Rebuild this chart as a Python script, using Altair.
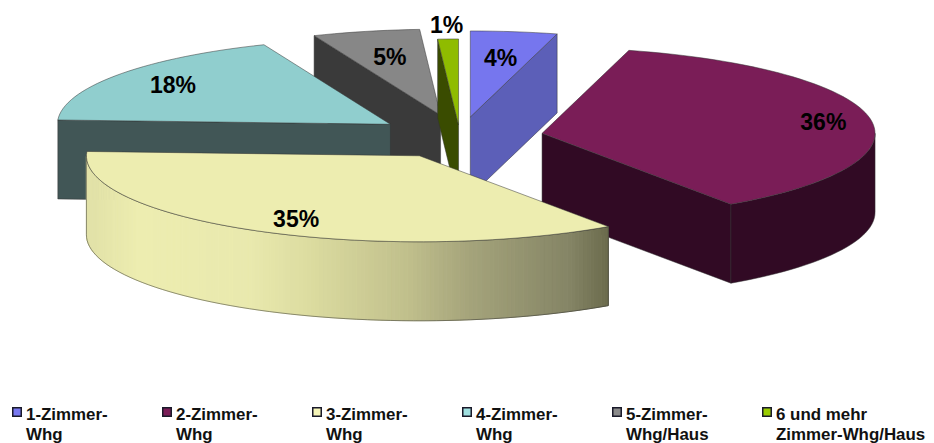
import math
import altair as alt

# --- data -----------------------------------------------------------------
categories = ["1-Zimmer-\nWhg", "2-Zimmer-\nWhg", "3-Zimmer-\nWhg", "4-Zimmer-\nWhg",
              "5-Zimmer-\nWhg/Haus", "6 und mehr\nZimmer-Whg/Haus"]
shares = [4.2, 36.2, 35.4, 18.0, 5.2, 1.0]

# --- styles ---------------------------------------------------------------
top_colors = ["#7676EE", "#7A1D57", "#EDEDB0", "#90CECE", "#878787", "#8FBC00"]
side_colors = ["#5C5FB8", "#310A24", "#EDEDB0", "#415656", "#3A3A3A", "#3A4C00"]
legend_colors = ["#7878F0", "#7A1D57", "#F5F5B8", "#A0E0E0", "#8A8A8A", "#99CC00"]
explode = [0.235, 0.25, 0.25, 0.256, 0.26, 0.14]
label_radius = [0.69, 0.857, 0.76, 0.80, 0.68, 1.15]
label_dy = [1, 2, 7, 1, 0, 0]
draw_order = [4, 5, 0, 3, 1, 2]
# which cut face of a slice looks towards the viewer: 1 = its clockwise end, 0 = its start
visible_cut = {0: 1, 1: 1, 3: 0, 4: 0, 5: 0}
yellow_stops = [(85, "#E2E2A8"), (130, "#EDEDB0"), (240, "#E9E9AE"), (300, "#DCDCA0"),
                (400, "#C0BF8C"), (460, "#A5A47B"), (560, "#858566"), (600, "#6B6B4C")]

CX, CY, RX, RY, DEPTH = 452, 129, 333, 86, 79
OUTLINE = "#333333"


def hex_rgb(h):
    return [int(h[i:i + 2], 16) for i in (1, 3, 5)]


def stop_color(x):
    if x <= yellow_stops[0][0]:
        return yellow_stops[0][1]
    for (x0, c0), (x1, c1) in zip(yellow_stops, yellow_stops[1:]):
        if x <= x1:
            t = (x - x0) / (x1 - x0)
            return "#%02x%02x%02x" % tuple(
                round(a + (b - a) * t) for a, b in zip(hex_rgb(c0), hex_rgb(c1)))
    return yellow_stops[-1][1]


def feature(points, fill, stroke, width=0.5):
    ring = [list(p) for p in points] + [list(points[0])]
    return {"type": "Feature",
            "geometry": {"type": "Polygon", "coordinates": [ring]},
            "properties": {"fill": fill, "stroke": stroke, "sw": width}}


total = sum(shares)
starts, acc = [], 0.0
for s in shares:
    starts.append(acc / total * 360)
    acc += s
ends = starts[1:] + [360.0]
mids = [(a + b) / 2 for a, b in zip(starts, ends)]


def apex(i):
    m = math.radians(mids[i])
    return (CX + explode[i] * RX * math.sin(m), CY - explode[i] * RY * math.cos(m))


def rim(i, deg, drop=0.0):
    ax, ay = apex(i)
    t = math.radians(deg)
    return (ax + RX * math.sin(t), ay - RY * math.cos(t) + drop)


def arc(i, a, b, drop=0.0, step=2.0):
    n = max(2, int(abs(b - a) / step) + 1)
    return [rim(i, a + (b - a) * k / n, drop) for k in range(n + 1)]


features = []
for i in draw_order:
    ax, ay = apex(i)
    a, b = starts[i], ends[i]
    if i in visible_cut:
        e = rim(i, b if visible_cut[i] else a)
        features.append(feature([(ax, ay), e, (e[0], e[1] + DEPTH), (ax, ay + DEPTH)],
                                side_colors[i], OUTLINE))
    lo, hi = max(a, 90.0), min(b, 270.0)
    if hi > lo:
        pts = arc(i, lo, hi)
        low = arc(i, lo, hi, DEPTH)
        if i == 2:  # the third slice's rim carries a shading from light to dark
            fine = arc(i, lo, hi, 0.0, 0.75)
            fine_low = arc(i, lo, hi, DEPTH, 0.75)
            for k in range(len(fine) - 1):
                col = stop_color((fine[k][0] + fine[k + 1][0]) / 2)
                features.append(feature([fine[k], fine[k + 1], fine_low[k + 1], fine_low[k]],
                                        col, col, 1.0))
            features.append(feature(pts + low[::-1], "transparent", OUTLINE))
        else:
            features.append(feature(pts + low[::-1], side_colors[i], OUTLINE))
    features.append(feature([(ax, ay)] + arc(i, a, b), top_colors[i], OUTLINE))

label_rows = []
for i, s in enumerate(shares):
    ax, ay = apex(i)
    t = math.radians(mids[i])
    label_rows.append({"text": f"{round(s)}%",
                       "lon": ax + label_radius[i] * RX * math.sin(t),
                       "lat": ay - label_radius[i] * RY * math.cos(t) + label_dy[i]})

legend_rows = [{"name": n, "fill": c, "sx": 9 + 150 * k, "sy": 404, "tx": 18 + 150 * k, "ty": 412}
               for k, (n, c) in enumerate(zip(categories, legend_colors))]

pie = alt.Chart(alt.Data(values=features)).mark_geoshape().encode(
    fill=alt.Fill("properties.fill:N", scale=None),
    stroke=alt.Stroke("properties.stroke:N", scale=None),
    strokeWidth=alt.StrokeWidth("properties.sw:Q", scale=None),
)
labels = alt.Chart(alt.Data(values=label_rows)).mark_text(
    font="Liberation Sans", fontWeight="bold", fontSize=23, color="#000000",
    align="center", baseline="middle",
).encode(longitude="lon:Q", latitude="lat:Q", text="text:N")
swatches = alt.Chart(alt.Data(values=legend_rows)).mark_square(
    size=72, stroke="#1a1a2a", strokeWidth=1.5, opacity=1,
).encode(longitude="sx:Q", latitude="sy:Q", fill=alt.Fill("fill:N", scale=None))
legend_text = alt.Chart(alt.Data(values=legend_rows)).mark_text(
    font="Liberation Sans", fontWeight="bold", fontSize=16.9, color="#111111",
    align="left", baseline="alphabetic", lineBreak="\n", lineHeight=20,
).encode(longitude="tx:Q", latitude="ty:Q", text="name:N")

chart = alt.layer(pie, labels, swatches, legend_text).project(
    type="identity", scale=1, translate=[0, 0]
).properties(
    width=918, height=435, padding=0, autosize=alt.AutoSizeParams(type="none")
).configure_view(stroke=None, clip=False)

chart.save("out.html", embed_options={"renderer": "svg", "actions": False})
